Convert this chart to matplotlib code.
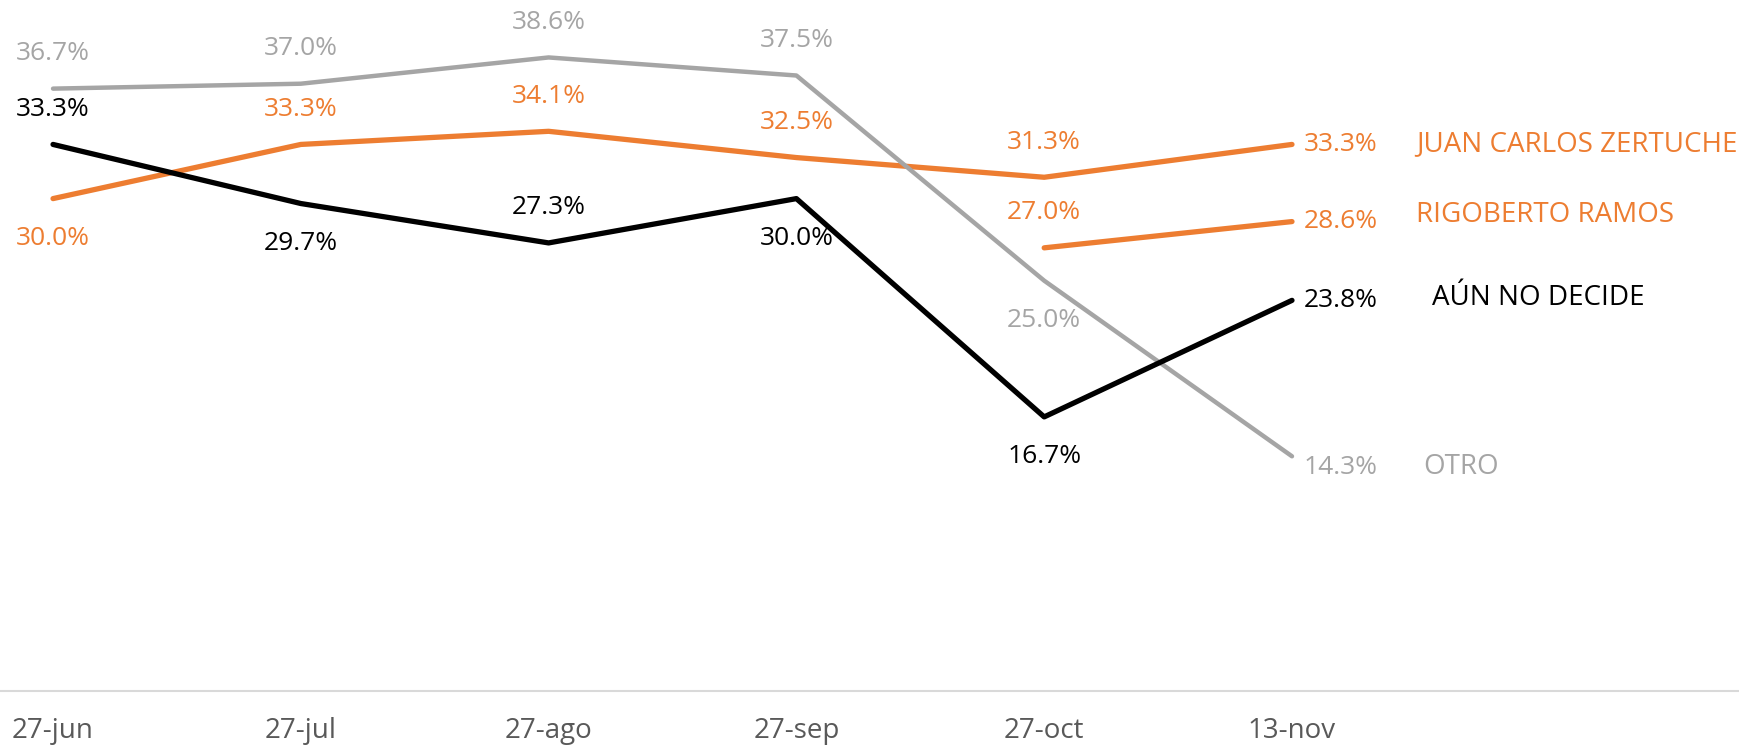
import numpy as np
import matplotlib
matplotlib.use("Agg")
import matplotlib.pyplot as plt

plt.rcParams["font.family"] = ["Open Sans", "DejaVu Sans"]

dates = ["27-jun", "27-jul", "27-ago", "27-sep", "27-oct", "13-nov"]
zertuche = [30.0, 33.3, 34.1, 32.5, 31.3, 33.3]
ramos = [np.nan, np.nan, np.nan, np.nan, 27.0, 28.6]
otro = [36.7, 37.0, 38.6, 37.5, 25.0, 14.3]
aun_no_decide = [33.3, 29.7, 27.3, 30.0, 16.7, 23.8]

names = ["JUAN CARLOS ZERTUCHE", "RIGOBERTO RAMOS", "OTRO", "AÚN NO DECIDE"]

# where each value label sits relative to its point
place_zertuche = ["below", "above", "above", "above", "above", "right"]
place_ramos = [None, None, None, None, "above", "right"]
place_otro = ["above", "above", "above", "above", "below", "right"]
place_aun = ["above", "below", "above", "below", "below", "right"]

orange = "#ED7D31"
gray = "#A5A5A5"
black = "#000000"

# values, label spots, colour, line width, name offset (px)
series = [
    (zertuche, place_zertuche, orange, 3.8, (124, 0)),
    (ramos, place_ramos, orange, 3.8, (124, 7)),
    (otro, place_otro, gray, 3.2, (131, -11)),
    (aun_no_decide, place_aun, black, 3.8, (140, 2)),
]

fig = plt.figure(figsize=(17.39, 7.48), dpi=100)
ax = fig.add_axes([0, 57 / 748, 1, 691 / 748])

x = np.arange(len(dates))
offsets = {"above": (0, 35), "below": (0, -40), "right": (12, 0)}

for (vals, places, color, lw, name_off), name in zip(series, names):
    ax.plot(x, vals, color=color, lw=lw, solid_capstyle="round",
            solid_joinstyle="round")
    for xi, v, p in zip(x, vals, places):
        if p is None or np.isnan(v):
            continue
        dx, dy = offsets[p]
        if p == "right" and color == gray:
            dy = -11
        ax.annotate(f"{v:.1f}%", (xi, v), xytext=(dx, dy),
                    textcoords="offset pixels",
                    ha="left" if p == "right" else "center", va="center",
                    fontsize=19, color=color)
    # series name to the right of the last point
    last = [i for i, v in enumerate(vals) if not np.isnan(v)][-1]
    ax.annotate(name, (x[last], vals[last]), xytext=name_off,
                textcoords="offset pixels", ha="left", va="center",
                fontsize=20, color=color)

ax.set_xlim(-0.214, 6.804)
ax.set_ylim(0, 42.1)
ax.set_xticks(x)
ax.set_xticklabels(dates, fontsize=20, color="#595959")
ax.tick_params(axis="x", length=0, pad=19)
ax.set_yticks([])
for s in ["top", "left", "right"]:
    ax.spines[s].set_visible(False)
ax.spines["bottom"].set_color("#D9D9D9")
ax.spines["bottom"].set_linewidth(1.5)

fig.savefig("out.png", dpi=100)
